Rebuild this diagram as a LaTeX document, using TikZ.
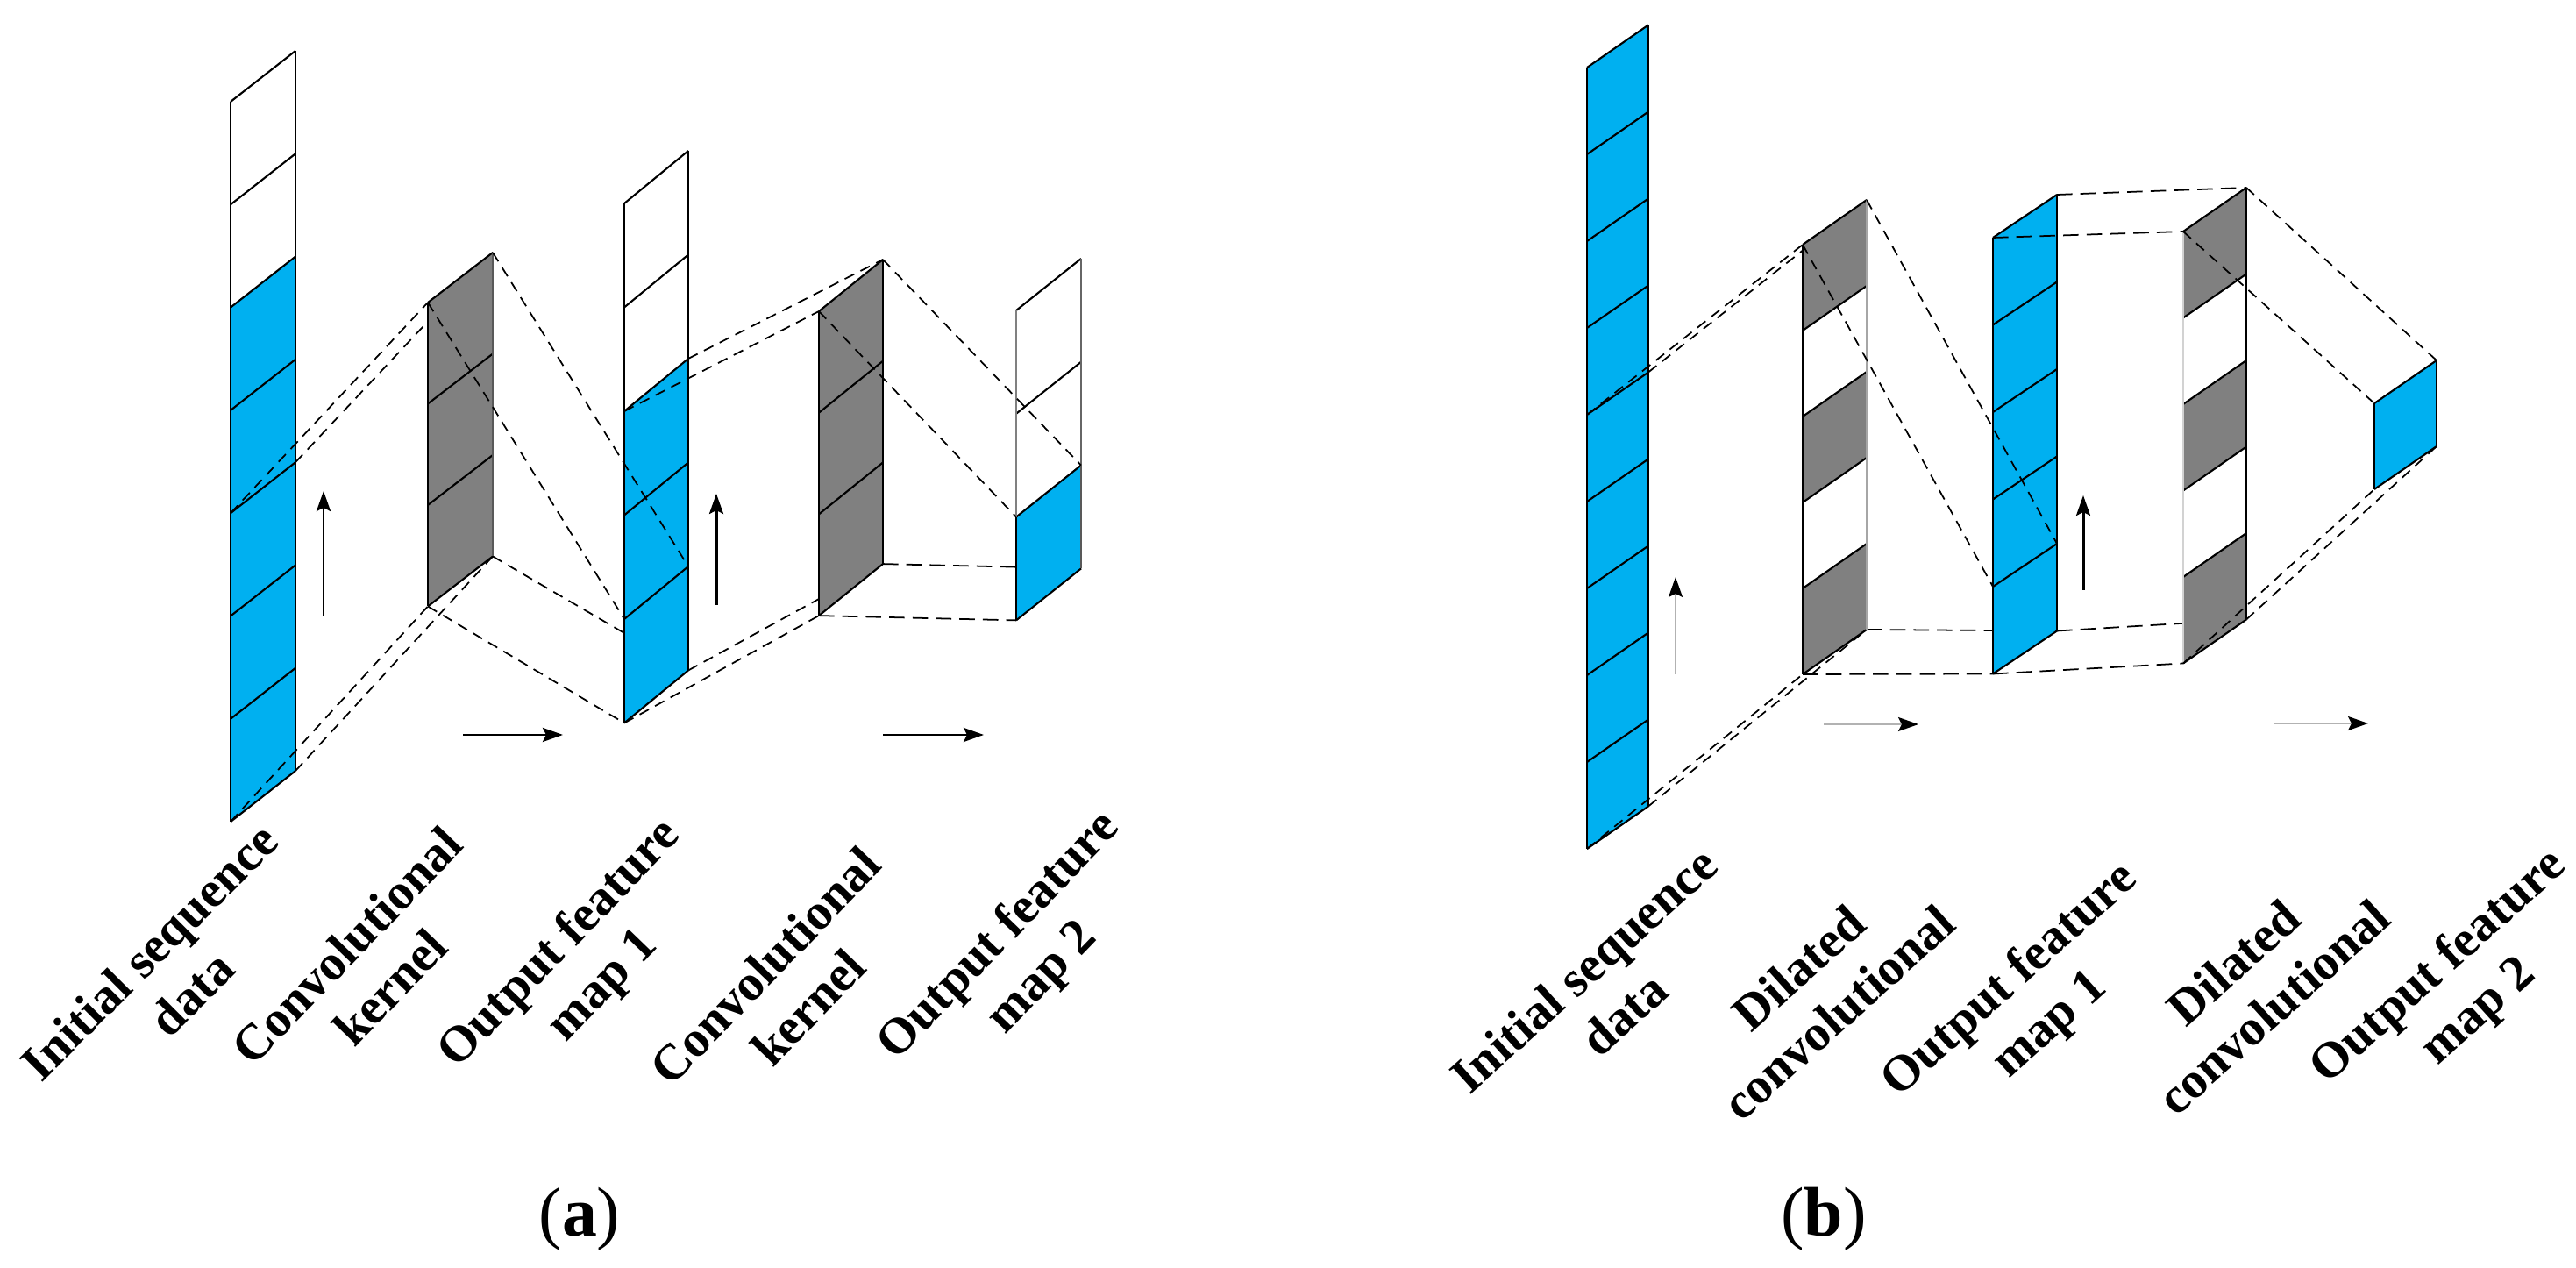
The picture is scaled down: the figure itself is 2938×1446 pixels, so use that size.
\documentclass[tikz,border=0pt]{standalone}
\usepackage{fontspec}
\setmainfont{Liberation Serif}
\usetikzlibrary{arrows.meta}
\definecolor{cellblue}{HTML}{00B0F0}
\definecolor{cellgrey}{HTML}{808080}
\tikzset{
  outline/.style={line width=0.75pt},
  cellline/.style={line width=0.6pt},
  proj/.style={line width=0.5pt, dash pattern=on 3.4pt off 2.3pt},
  projh/.style={line width=0.5pt, dash pattern=on 5pt off 2.6pt},
  flow/.style={line width=0.85pt, -{Stealth[length=2.3mm,width=1.6mm,inset=0.4mm]}},
  flowg/.style={line width=0.6pt, draw=gray!60, -{Stealth[length=2.3mm,width=1.6mm,inset=0.4mm,color=black]}},
  lab/.style={font=\fontsize{16.4}{19.4}\selectfont\bfseries, align=center, inner sep=0pt},
  captxt/.style={font=\fontsize{22.7}{26}\selectfont, inner sep=0pt, anchor=base},
}
% name, x left, y top-left, width, slant, cell height, number of cells
\newcommand\colcoords[7]{%
  \foreach \i in {0,...,#7}{
    \coordinate (#1-L\i) at (#2, {#3+\i*#6});
    \coordinate (#1-R\i) at ({#2+#4}, {#3-#5+\i*#6});
  }%
}
% name, from, to, colour
\newcommand\cellfill[4]{%
  \fill[#4] (#1-L#2) -- (#1-R#2) -- (#1-R#3) -- (#1-L#3) -- cycle;
}
% name, n
\newcommand\cellgrid[2]{%
  \foreach \i in {0,...,#2}{ \draw[cellline] (#1-L\i) -- (#1-R\i); }%
}
\begin{document}
\begin{tikzpicture}[x=0.1mm, y=-0.1mm, line cap=butt]
\useasboundingbox (0,0) rectangle (2938,1446);

% ---------- coordinates of the columns ----------
\colcoords{A1}{263}{116}{74}{58}{117.3}{7}
\colcoords{K1}{488}{345}{74}{57}{115.5}{3}
\colcoords{F1}{712}{232}{73}{60}{118.5}{5}
\colcoords{K2}{934}{355}{73}{59}{115.7}{3}
\colcoords{F2}{1159}{354}{74}{59}{117.8}{3}
\colcoords{B1}{1810}{77}{70}{48.5}{99}{9}
\colcoords{D1}{2056}{279}{73}{51}{98}{5}
\colcoords{G1}{2273}{271}{73}{49}{99.5}{5}
\colcoords{D2}{2490}{264}{72}{50}{98.5}{5}
\colcoords{G2}{2708}{460}{71}{49}{98}{1}

% ---------- hidden projection lines (behind the columns) ----------
\draw[proj] (A1-R4) -- (K1-R0);
\draw[proj] (K1-R3) -- (F1-R5);
\draw[proj] (F1-R5) -- (K2-R3);
\draw[projh] (K2-R3) -- (F2-R3);
\draw[proj] (B1-R4) -- (D1-R0);
\draw[projh] (D1-R5) -- (G1-R5);
\draw[projh] (G1-R5) -- (D2-R5);

% ---------- (a) columns ----------
\cellfill{A1}{0}{2}{white}\cellfill{A1}{2}{7}{cellblue}
\cellgrid{A1}{7}
\draw[outline] (A1-L0) -- (A1-L7); \draw[outline] (A1-R0) -- (A1-R7);

\cellfill{K1}{0}{3}{cellgrey}
\cellgrid{K1}{3}
\draw[outline] (K1-L0) -- (K1-L3); \draw[outline, gray!70!black] (K1-R0) -- (K1-R3);

\cellfill{F1}{0}{2}{white}\cellfill{F1}{2}{5}{cellblue}
\cellgrid{F1}{5}
\draw[outline] (F1-L0) -- (F1-L5); \draw[outline] (F1-R0) -- (F1-R5);

\cellfill{K2}{0}{3}{cellgrey}
\cellgrid{K2}{3}
\draw[outline] (K2-L0) -- (K2-L3); \draw[outline] (K2-R0) -- (K2-R3);

\cellfill{F2}{0}{2}{white}\cellfill{F2}{2}{3}{cellblue}
\cellgrid{F2}{3}
\draw[cellline, gray] (F2-L0) -- (F2-L2); \draw[cellline, gray!80!black] (F2-R0) -- (F2-R2);
\draw[outline] (F2-L2) -- (F2-L3); \draw[outline, gray!70!black] (F2-R2) -- (F2-R3);

% ---------- (b) columns ----------
\cellfill{B1}{0}{9}{cellblue}
\cellgrid{B1}{9}
\draw[outline] (B1-L0) -- (B1-L9); \draw[outline] (B1-R0) -- (B1-R9);

\cellfill{D1}{0}{1}{cellgrey}\cellfill{D1}{1}{2}{white}\cellfill{D1}{2}{3}{cellgrey}
\cellfill{D1}{3}{4}{white}\cellfill{D1}{4}{5}{cellgrey}
\cellgrid{D1}{5}
\draw[outline] (D1-L0) -- (D1-L5); \draw[outline, gray!70] (D1-R0) -- (D1-R5);

\cellfill{G1}{0}{5}{cellblue}
\cellgrid{G1}{5}
\draw[outline] (G1-L0) -- (G1-L5); \draw[outline] (G1-R0) -- (G1-R5);

\cellfill{D2}{0}{1}{cellgrey}\cellfill{D2}{1}{2}{white}\cellfill{D2}{2}{3}{cellgrey}
\cellfill{D2}{3}{4}{white}\cellfill{D2}{4}{5}{cellgrey}
\cellgrid{D2}{5}
\draw[outline, gray!35] (D2-L0) -- (D2-L5); \draw[outline] (D2-R0) -- (D2-R5);

\cellfill{G2}{0}{1}{cellblue}
\cellgrid{G2}{1}
\draw[outline] (G2-L0) -- (G2-L1); \draw[outline] (G2-R0) -- (G2-R1);

% ---------- visible projection lines ----------
\draw[proj] (A1-L4) -- (K1-L0);
\draw[proj] (A1-L7) -- (K1-L3);
\draw[proj] (A1-R7) -- (K1-R3);
\draw[proj] (K1-L0) -- (F1-L4);
\draw[proj] (K1-R0) -- (F1-R4);
\draw[proj] (K1-L3) -- (F1-L5);
\draw[proj] (F1-L2) -- (K2-L0);
\draw[proj] (F1-R2) -- (K2-R0);
\draw[proj] (F1-L5) -- (K2-L3);
\draw[proj] (K2-L0) -- (F2-L2);
\draw[proj] (K2-R0) -- (F2-R2);
\draw[projh] (K2-L3) -- (F2-L3);

\draw[proj] (B1-L4) -- (D1-L0);
\draw[proj] (B1-L9) -- (D1-L5);
\draw[proj] (B1-R9) -- (D1-R5);
\draw[proj] (D1-L0) -- (G1-L4);
\draw[proj] (D1-R0) -- (G1-R4);
\draw[projh] (D1-L5) -- (G1-L5);
\draw[projh] (G1-L0) -- (D2-L0);
\draw[projh] (G1-R0) -- (D2-R0);
\draw[projh] (G1-L5) -- (D2-L5);
\draw[proj] (D2-L0) -- (G2-L0);
\draw[proj] (D2-R0) -- (G2-R0);
\draw[proj] (D2-R5) -- (G2-R1);
\draw[proj] (D2-L5) -- (G2-L1);

% ---------- direction arrows ----------
\coordinate (va1s) at (369,703);  \coordinate (va1e) at (369,560);
\coordinate (ha1s) at (528,838);  \coordinate (ha1e) at (642,838);
\coordinate (va2s) at (817,690);  \coordinate (va2e) at (817,563);
\coordinate (ha2s) at (1007,838); \coordinate (ha2e) at (1122,838);
\coordinate (vb1s) at (1911,769); \coordinate (vb1e) at (1911,658);
\coordinate (hb1s) at (2080,826); \coordinate (hb1e) at (2188,826);
\coordinate (vb2s) at (2376,673); \coordinate (vb2e) at (2376,565);
\coordinate (hb2s) at (2594,825); \coordinate (hb2e) at (2701,825);
\draw[flow] (va1s) -- (va1e);
\draw[flow] (ha1s) -- (ha1e);
\draw[flow] (va2s) -- (va2e);
\draw[flow] (ha2s) -- (ha2e);
\draw[flowg] (vb1s) -- (vb1e);
\draw[flowg] (hb1s) -- (hb1e);
\draw[flow] (vb2s) -- (vb2e);
\draw[flowg] (hb2s) -- (hb2e);

% ---------- labels ----------
\node[lab, rotate=45] (la1) at (194,1109) {Initial sequence\\data};
\node[lab, rotate=46] (la2) at (420,1102) {Convolutional\\kernel};
\node[lab, rotate=46] (la3) at (664,1101) {Output feature\\map 1};
\node[lab, rotate=46] (la4) at (897,1125) {Convolutional\\kernel};
\node[lab, rotate=46] (la5) at (1165,1092) {Output feature\\map 2};
\node[lab, rotate=42] (lb1) at (1829,1131) {Initial sequence\\data};
\node[lab, rotate=42] (lb2) at (2074,1129) {Dilated\\convolutional};
\node[lab, rotate=42] (lb3) at (2316,1144) {Output feature\\map 1};
\node[lab, rotate=42] (lb4) at (2570,1123) {Dilated\\convolutional};
\node[lab, rotate=42] (lb5) at (2805,1129) {Output feature\\map 2};

\node[captxt] (capa) at (661,1409) {(\textbf{a})};
\node[captxt] (capb) at (2080,1409) {(\textbf{b})};
\end{tikzpicture}
\end{document}
